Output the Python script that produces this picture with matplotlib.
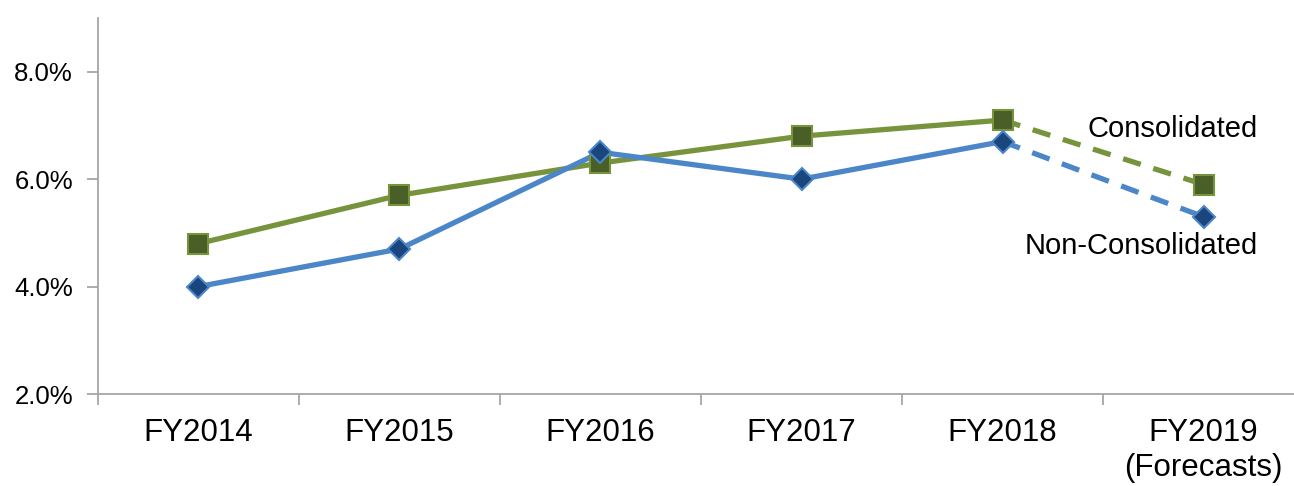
import matplotlib.pyplot as plt
from matplotlib.ticker import FuncFormatter, FixedLocator

years = ["FY2014", "FY2015", "FY2016", "FY2017", "FY2018", "FY2019\n(Forecasts)"]
consolidated = [4.8, 5.7, 6.3, 6.8, 7.1, 5.9]
non_consolidated = [4.0, 4.7, 6.5, 6.0, 6.7, 5.3]

plt.rcParams['font.family'] = ['Liberation Sans', 'DejaVu Sans']

fig = plt.figure(figsize=(12.94, 4.86), dpi=100)
ax = fig.add_axes([0.0757, 0.1893, 0.9243, 0.7737])

x = list(range(len(years)))
n_actual = 5  # last point is a forecast, drawn dashed

series = [
    (consolidated, "#77933C", "s", "#4A5E28", "#77933C", 14),
    (non_consolidated, "#4A86C8", "D", "#1A457D", "#4A86C8", 11.5),
]
for vals, line_c, mk, face, edge, ms in series:
    ax.plot(x[:n_actual], vals[:n_actual], color=line_c, lw=3.8,
            solid_capstyle="round", zorder=2)
    ax.plot(x[n_actual - 1:], vals[n_actual - 1:], color=line_c, lw=3.8,
            ls=(0, (3.5, 2.5)), zorder=2)
    ax.plot(x, vals, ls="none", marker=mk, ms=ms, mfc=face, mec=edge,
            mew=1.5, zorder=3)

ax.text(5.27, 6.93, "Consolidated", ha="right", va="center", fontsize=21)
ax.text(5.27, 4.75, "Non-Consolidated", ha="right", va="center", fontsize=21)

ax.set_xlim(-0.5, 5.45)
ax.set_ylim(2.0, 9.0)
ax.set_yticks([2, 4, 6, 8])
ax.yaxis.set_major_formatter(FuncFormatter(lambda v, p: f"{v:.1f}%"))

# category boundaries carry the tick marks, labels sit at the centres
ax.xaxis.set_major_locator(FixedLocator([i - 0.5 for i in range(len(years) + 1)]))
ax.xaxis.set_minor_locator(FixedLocator(x))
ax.set_xticklabels([])
ax.set_xticklabels(years, minor=True, fontsize=22.5, linespacing=1.22)
ax.tick_params(axis="x", which="major", length=8, color="#A6A6A6", width=1.3)
ax.tick_params(axis="x", which="minor", length=0, pad=17)
ax.tick_params(axis="y", length=8, color="#A6A6A6", width=1.3,
               labelsize=18.5, pad=10)

for side in ("top", "right"):
    ax.spines[side].set_visible(False)
for side in ("left", "bottom"):
    ax.spines[side].set_color("#A6A6A6")
    ax.spines[side].set_linewidth(1.3)

fig.savefig("out.png", dpi=100)
